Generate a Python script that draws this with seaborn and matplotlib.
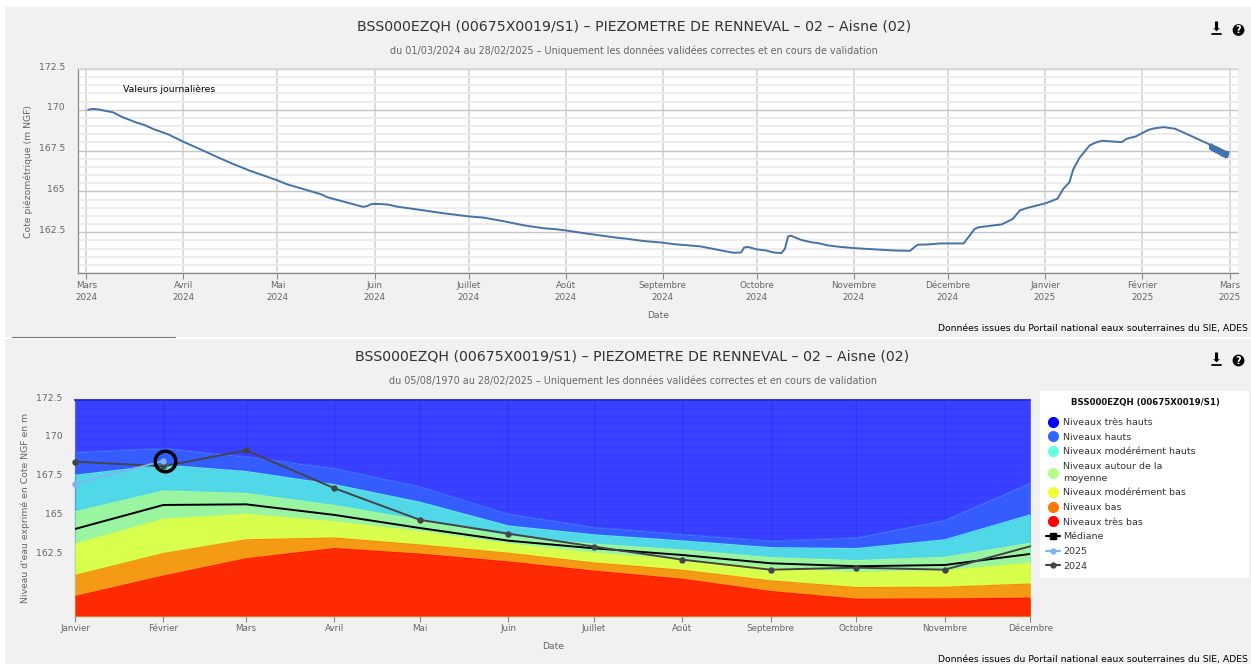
import pandas as pd
import matplotlib
matplotlib.use("Agg")
import matplotlib.pyplot as plt
from matplotlib.lines import Line2D
from matplotlib.patches import Rectangle, Circle
from matplotlib.transforms import ScaledTranslation
import seaborn as sns

W, H = 1251, 664

# Daily series, days after 01/03/2024
daily_days = [0.6, 2, 4, 8.6, 11.3, 16, 18.7, 21.4, 26.2, 31, 36.3, 41.6, 47, 52.3, 61, 64, 75, 77,
              88.4, 89.6, 91.1, 93.8, 96.4, 99.1, 106.5, 114, 122, 126.9, 133.3, 139.7, 146, 149.6,
              153, 159.9, 170.3, 172.5, 177.8, 184, 187.4, 196, 206.5, 209, 210, 211.3, 214, 217,
              219.3, 221.9, 223, 224, 224.8, 228.3, 231.5, 233.6, 236.8, 240.6, 244.8, 248, 257.6,
              262.9, 265.3, 268.8, 272.5, 280, 281.9, 283.5, 284.7, 292.2, 295.7, 298, 300.2, 306.5,
              310, 311.9, 313.8, 315, 317, 320.2, 322, 324.1, 330.5, 332, 335, 339, 340.8, 343.8,
              347.5, 351.8, 358.5, 358.8, 359.1, 359.4, 359.7, 360.0, 360.3, 360.6, 360.9, 361.2,
              361.5, 361.8, 362.1, 362.4, 362.7, 363.0, 363.3, 363.6, 363.9, 364.2, 364.6]
daily_values = [170.0, 170.06, 170.02, 169.84, 169.57, 169.22, 169.06, 168.82, 168.49, 168.04, 167.59,
                167.12, 166.67, 166.26, 165.68, 165.44, 164.82, 164.64, 164.05, 164.1, 164.23, 164.23,
                164.19, 164.07, 163.87, 163.66, 163.47, 163.39, 163.17, 162.92, 162.74, 162.69, 162.61,
                162.41, 162.14, 162.1, 161.96, 161.86, 161.77, 161.63, 161.24, 161.26, 161.57, 161.59,
                161.45, 161.38, 161.26, 161.22, 161.49, 162.24, 162.29, 162.02, 161.88, 161.83, 161.69,
                161.6, 161.53, 161.49, 161.38, 161.36, 161.73, 161.75, 161.81, 161.81, 162.28, 162.69,
                162.8, 162.98, 163.31, 163.84, 163.98, 164.29, 164.56, 165.17, 165.56, 166.34, 167.05,
                167.81, 167.98, 168.1, 168.02, 168.22, 168.37, 168.77, 168.86, 168.94, 168.84, 168.47,
                167.88, 167.58, 167.9, 167.5, 167.82, 167.44, 167.76, 167.38, 167.72, 167.32, 167.66,
                167.26, 167.6, 167.18, 167.54, 167.14, 167.48, 167.08, 167.46, 167.1, 167.42]

top_month_dates = ["2024-03-01", "2024-04-01", "2024-05-01", "2024-06-01", "2024-07-01", "2024-08-01",
                   "2024-09-01", "2024-10-01", "2024-11-01", "2024-12-01", "2025-01-01", "2025-02-01",
                   "2025-03-01"]
top_month_labels = ["Mars\n2024", "Avril\n2024", "Mai\n2024", "Juin\n2024", "Juillet\n2024", "Août\n2024",
                    "Septembre\n2024", "Octobre\n2024", "Novembre\n2024", "Décembre\n2024",
                    "Janvier\n2025", "Février\n2025", "Mars\n2025"]

# Monthly levels
months = ["2024-01-01", "2024-02-01", "2024-03-01", "2024-04-01", "2024-05-01", "2024-06-01",
          "2024-07-01", "2024-08-01", "2024-09-01", "2024-10-01", "2024-11-01", "2024-12-01"]
month_labels = ["Janvier", "Février", "Mars", "Avril", "Mai", "Juin", "Juillet", "Août", "Septembre",
                "Octobre", "Novembre", "Décembre"]
hauts = [169.15, 169.40, 168.87, 168.12, 166.94, 165.19, 164.34, 163.89, 163.46, 163.67, 164.79, 167.18]
mod_hauts = [167.67, 168.33, 167.91, 167.07, 165.94, 164.42, 163.85, 163.46, 163.03, 162.97, 163.53, 165.13]
moyenne = [165.32, 166.67, 166.50, 165.73, 164.79, 163.76, 163.25, 162.88, 162.39, 162.20, 162.41, 163.31]
mod_bas = [163.25, 164.85, 165.17, 164.68, 164.06, 163.27, 162.67, 162.24, 161.71, 161.43, 161.56, 162.03]
bas = [161.24, 162.65, 163.53, 163.65, 163.20, 162.67, 162.05, 161.58, 160.90, 160.47, 160.49, 160.70]
tres_bas = [159.89, 161.20, 162.31, 162.97, 162.61, 162.11, 161.52, 161.00, 160.21, 159.72, 159.74, 159.79]
mediane = [164.23, 165.77, 165.81, 165.13, 164.29, 163.48, 162.99, 162.56, 162.03, 161.84, 161.92, 162.63]
annee_2024 = [168.55, 168.25, 169.27, 166.84, 164.81, 163.93, 163.10, 162.26, 161.62, 161.75, 161.62, 163.12]
annee_2025 = [167.14, 168.59]

y_ticks = [162.5, 165, 167.5, 170, 172.5]
y_tick_labels = ["162.5", "165", "167.5", "170", "172.5"]
minor_ticks = [160 + 0.5 * i for i in range(26)]

band_labels = ["Niveaux très hauts", "Niveaux hauts", "Niveaux modérément hauts",
               "Niveaux autour de la\nmoyenne", "Niveaux modérément bas", "Niveaux bas", "Niveaux très bas"]
band_colors = ["#0000ff", "#3366ff", "#66ffdd", "#b3ff88", "#eeff33", "#ff7700", "#ff0000"]
band_fills = ["#3a40ff", "#355cff", "#50d8e8", "#99f5a0", "#d9ff4d", "#f59a14", "#ff2a00"]

title = "BSS000EZQH (00675X0019/S1) – PIEZOMETRE DE RENNEVAL – 02 – Aisne (02)"
sub_top = "du 01/03/2024 au 28/02/2025 – Uniquement les données validées correctes et en cours de validation"
sub_bottom = "du 05/08/1970 au 28/02/2025 – Uniquement les données validées correctes et en cours de validation"
source = "Données issues du Portail national eaux souterraines du SIE, ADES"

sns.set_theme(style="white")
plt.rcParams["font.family"] = "DejaVu Sans"

fig = plt.figure(figsize=(W / 100, H / 100), dpi=100, facecolor="white")


def px_axes(left, top, right, bottom, **kw):
    return fig.add_axes([left / W, 1 - bottom / H, (right - left) / W, (bottom - top) / H], **kw)


# Background panels and texts, in pixels
bg = fig.add_axes([0, 0, 1, 1], zorder=-1)
bg.set_xlim(0, W)
bg.set_ylim(H, 0)
bg.axis("off")
bg.add_patch(Rectangle((5, 7), W - 5, 329.5, color="#f1f1f1", lw=0))
bg.add_patch(Rectangle((5, 339), W - 5, H - 339, color="#f1f1f1", lw=0))
bg.add_patch(Rectangle((1040, 391), 209, 186.5, color="white", lw=0))
bg.plot([12, 175], [336.7, 336.7], color="#777777", lw=0.8)

bg.text(634, 26, title, ha="center", va="center", fontsize=10.13, color="#333333")
bg.text(633.5, 50.5, sub_top, ha="center", va="center", fontsize=6.9, color="#666666")
bg.text(632.5, 356.5, title, ha="center", va="center", fontsize=10.13, color="#333333")
bg.text(633, 381, sub_bottom, ha="center", va="center", fontsize=6.9, color="#666666")
bg.text(1248, 328.5, source, ha="right", va="center", fontsize=6.7, color="black")
bg.text(1248, 659.5, source, ha="right", va="center", fontsize=6.7, color="black")
bg.text(658, 315.5, "Date", ha="center", va="center", fontsize=6.7, color="#666666")
bg.text(553, 646.5, "Date", ha="center", va="center", fontsize=6.7, color="#666666")
bg.text(28, 172, "Cote piézométrique (m NGF)", rotation=90, ha="center", va="center", fontsize=6.7, color="#666666")
bg.text(25, 508, "Niveau d'eau exprimé en Cote NGF en m", rotation=90, ha="center", va="center", fontsize=6.7,
        color="#666666")
bg.text(1145, 403, "BSS000EZQH (00675X0019/S1)", ha="center", va="center", fontsize=6.2, color="#111111",
        fontweight="bold")

# Icons
for cy in [30, 360.5]:
    bg.text(1216.5, cy - 2.5, "⬇", ha="center", va="center", fontsize=9.5, color="black")
    bg.plot([1212, 1221], [cy + 4.2, cy + 4.2], color="black", lw=1.3)
    bg.add_patch(Circle((1238.5, cy), 5.9, color="black", lw=0))
    bg.text(1238.5, cy, "?", ha="center", va="center", fontsize=7, color="white", fontweight="bold")

# Top chart
ax1 = px_axes(77.5, 69, 1238, 273)
dates = pd.Timestamp("2024-03-01") + pd.to_timedelta(daily_days, unit="D")
df_daily = pd.DataFrame({"date": dates, "cote": daily_values})
sns.lineplot(data=df_daily, x="date", y="cote", color="#4572a7", lw=1.4, estimator=None, sort=False, ax=ax1, zorder=5)
ax1.set_xlim(pd.Timestamp("2024-03-01") - pd.Timedelta(days=2.8), pd.Timestamp("2025-03-01") + pd.Timedelta(days=2.6))
ax1.set_ylim(160, 172.5)
ax1.set_xticks(pd.to_datetime(top_month_dates), labels=top_month_labels)
ax1.set_yticks(y_ticks, labels=y_tick_labels)
ax1.set_yticks(minor_ticks, minor=True)
ax1.grid(True, which="major", axis="x", color="#d2d2d2", lw=1.1)
ax1.grid(True, which="major", axis="y", color="#c6c6c6", lw=1.0)
ax1.grid(True, which="minor", axis="y", color="#ececec", lw=1.3)
ax1.set_axisbelow(True)
ax1.text(pd.Timestamp("2024-03-12 20:00"), 171.25, "Valeurs journalières", fontsize=6.75, color="black", va="center")

# Bottom chart
ax2 = px_axes(75, 400, 1030.3, 616)
mdates = pd.to_datetime(months)
tops = [hauts, mod_hauts, moyenne, mod_bas, bas, tres_bas]
ymin2 = 158.65
ax2.set_ylim(ymin2, 172.5)
ax2.fill_between(mdates, hauts, 172.5, color=band_fills[0], lw=0, zorder=1)
for top, fill, edge in zip(tops, band_fills[1:], band_colors[1:]):
    ax2.fill_between(mdates, top, ymin2, color=fill, lw=0, zorder=3)
    sns.lineplot(x=mdates, y=top, color=edge, lw=0.9, alpha=0.85, ax=ax2, zorder=3.2, legend=False)
sns.lineplot(x=mdates, y=mediane, color="black", lw=1.4, ax=ax2, zorder=4)
sns.lineplot(x=mdates, y=annee_2024, color="#434348", lw=1.4, marker="o", ms=4.6, mew=0, ax=ax2, zorder=5,
             markevery=list(range(11)), clip_on=False)
sns.lineplot(x=mdates[:2], y=annee_2025, color="#7cb5ec", lw=1.4, marker="o", ms=4.6, mew=0, ax=ax2, zorder=6,
             clip_on=False)
ax2.plot(mdates[1] + pd.Timedelta(days=0.4), annee_2025[1], marker="o", ms=14.8, mfc="none", mec="black", mew=2.5,
         zorder=7, clip_on=False)
ax2.set_xlim(mdates[0], mdates[-1])
ax2.set_xticks(mdates, labels=month_labels)
ax2.set_yticks(y_ticks, labels=y_tick_labels)
ax2.set_yticks(minor_ticks, minor=True)
# grid shows only over the top blue band, under the other fills
ax2.set_axisbelow(False)
ax2.grid(True, which="major", axis="x", color="#1a1acc", alpha=0.22, lw=1.0)
ax2.grid(True, which="both", axis="y", color="#1a1acc", alpha=0.15, lw=0.8)

label_shift = ScaledTranslation(0, 2 / 100, fig.dpi_scale_trans)
for ax in [ax1, ax2]:
    ax.set_xlabel("")
    ax.set_ylabel("")
    ax.set_facecolor("white")
    ax.tick_params(axis="x", which="major", length=4.5, width=0.8, color="#888888", labelsize=6.3,
                   labelcolor="#666666", pad=1, bottom=True)
    ax.tick_params(axis="y", which="both", length=0, labelsize=6.7, labelcolor="#666666", pad=9)
    ax.tick_params(axis="y", which="minor", labelleft=False)
    for s in ["top", "right"]:
        ax.spines[s].set_visible(False)
    for s in ["left", "bottom"]:
        ax.spines[s].set_color("#888888")
        ax.spines[s].set_linewidth(0.9)
    for lab in ax.get_yticklabels():
        lab.set_verticalalignment("center")
        lab.set_transform(lab.get_transform() + label_shift)
for lab in ax1.get_xticklabels():
    lab.set_linespacing(1.45)
ax1.spines["top"].set_visible(True)
ax1.spines["top"].set_color("#d8d8d8")
ax2.spines["top"].set_visible(True)
ax2.spines["top"].set_color("#1c1cd8")

# Legend
handles = [Line2D([], [], ls="", marker="o", ms=8, color=c, mew=0) for c in band_colors]
handles.append(Line2D([], [], color="black", lw=1.6, marker="s", ms=4))
handles.append(Line2D([], [], color="#7cb5ec", lw=1.5, marker="o", ms=3.5))
handles.append(Line2D([], [], color="#434348", lw=1.5, marker="o", ms=3.5))
labels = band_labels + ["Médiane", "2025", "2024"]
leg = fig.legend(handles, labels, loc="upper left", bbox_to_anchor=(1045.5 / W, 1 - 418 / H), frameon=False,
                 fontsize=6.8, labelspacing=0.6, handlelength=1.53, handletextpad=0.36, borderpad=0,
                 borderaxespad=0, labelcolor="#333333")
for t in leg.get_texts():
    t.set_linespacing(1.4)

fig.savefig("out.png", dpi=100)
